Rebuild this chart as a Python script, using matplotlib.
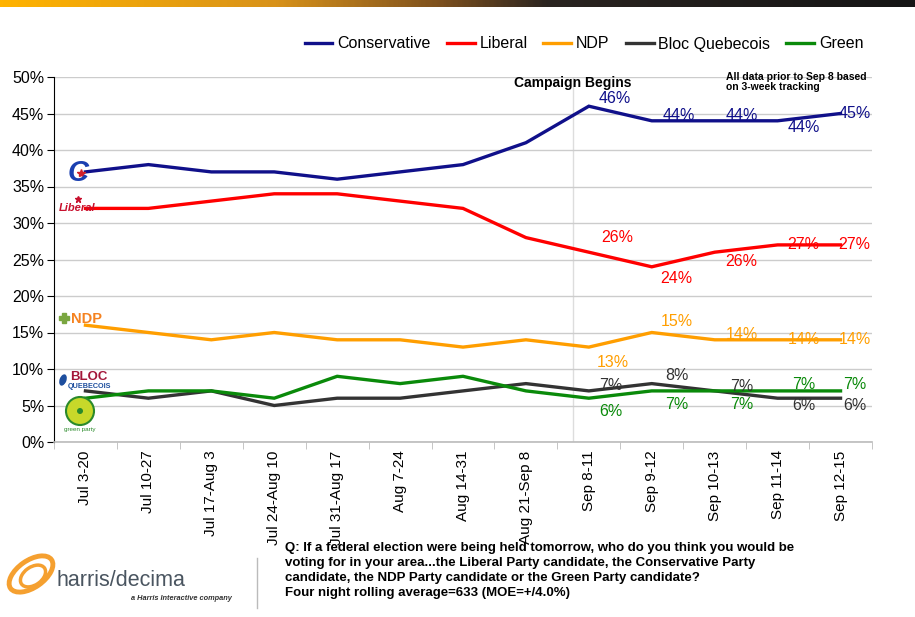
import numpy as np
import matplotlib
matplotlib.use("Agg")
import matplotlib.pyplot as plt
from matplotlib.colors import LinearSegmentedColormap
from matplotlib.patches import Ellipse, Circle

plt.rcParams['font.family'] = ['Liberation Sans', 'DejaVu Sans']

W, H = 915, 617

periods = ["Jul 3-20", "Jul 10-27", "Jul 17-Aug 3", "Jul 24-Aug 10", "Jul 31-Aug 17",
           "Aug 7-24", "Aug 14-31", "Aug 21-Sep 8", "Sep 8-11", "Sep 9-12",
           "Sep 10-13", "Sep 11-14", "Sep 12-15"]
conservative = [37, 38, 37, 37, 36, 37, 38, 41, 46, 44, 44, 44, 45]
liberal = [32, 32, 33, 34, 34, 33, 32, 28, 26, 24, 26, 27, 27]
ndp = [16, 15, 14, 15, 14, 14, 13, 14, 13, 15, 14, 14, 14]
bloc = [7, 6, 7, 5, 6, 6, 7, 8, 7, 8, 7, 6, 6]
green = [6, 7, 7, 6, 9, 8, 9, 7, 6, 7, 7, 7, 7]

series = [("Conservative", conservative, "#10108a"),
          ("Liberal", liberal, "#ff0000"),
          ("NDP", ndp, "#ff9e00"),
          ("Bloc Quebecois", bloc, "#333333"),
          ("Green", green, "#0a8a0a")]

# label offsets (px) for the last five points of each line
offsets = {
    "Conservative": [(26, 8), (27, 5), (27, 5), (26, -7), (14, 0)],
    "Liberal": [(28, 15), (25, -12), (27, -9), (26, 0), (14, 0)],
    "NDP": [(24, -15), (25, 11), (27, 5), (26, 0), (14, 0)],
    "Bloc Quebecois": [(22, 5), (25, 8), (27, 4), (26, -7), (14, -7)],
    "Green": [(22, -13), (25, -14), (27, -14), (26, 6), (14, 6)],
}


def px(x, y):
    return x / W, 1 - y / H


fig = plt.figure(figsize=(W / 100, H / 100), dpi=100)

# top gradient bar
bar = fig.add_axes([0, 1 - 7 / H, 1, 7 / H])
cmap = LinearSegmentedColormap.from_list(
    "bar", [(0, "#ffb300"), (0.3, "#d8921a"), (0.48, "#7d501e"),
            (0.6, "#2a2420"), (1, "#151515")])
bar.imshow(np.linspace(0, 1, 400).reshape(1, -1), aspect="auto", cmap=cmap)
bar.axis("off")

ax = fig.add_axes([54 / W, 1 - 442 / H, (872 - 54) / W, (442 - 77) / H])
x = np.arange(len(periods))
for name, vals, col in series:
    ax.plot(x, vals, color=col, lw=2.4, label=name, solid_joinstyle="miter")
    for i, (dx, dy) in zip(range(8, 13), offsets[name]):
        ax.annotate(f"{vals[i]}%", (x[i], vals[i]), xytext=(dx, dy),
                    textcoords="offset pixels", ha="center", va="center",
                    color=col, fontsize=11.5)

ax.set_xlim(-0.5, len(periods) - 0.5)
ax.set_ylim(0, 50)
ax.set_yticks(range(0, 51, 5))
ax.set_yticklabels([f"{v}%" for v in range(0, 51, 5)], fontsize=11.5)
ax.set_xticks(x)
ax.set_xticklabels(periods, rotation=90, fontsize=11)
ax.set_xticks(np.arange(-0.5, len(periods)), minor=True)
ax.tick_params(axis="x", which="major", length=0, pad=6)
ax.tick_params(axis="x", which="minor", length=5, color="#bbbbbb")
ax.tick_params(axis="y", length=5, pad=2)
ax.grid(axis="y", color="#cccccc", lw=1)
ax.set_axisbelow(True)
for s in ["top", "right"]:
    ax.spines[s].set_visible(False)
ax.spines["bottom"].set_color("#bbbbbb")
ax.spines["bottom"].set_linewidth(1.2)
ax.axvline(7.75, color="#dddddd", lw=1, zorder=0)

ax.text(7.75, 49.2, "Campaign Begins", ha="center", va="center",
        fontsize=10, fontweight="bold")
fig.text(*px(726, 82), "All data prior to Sep 8 based\non 3-week tracking",
         fontsize=7.5, fontweight="bold", va="center", linespacing=1.1)

fig.legend(loc="center right", bbox_to_anchor=px(878, 44), ncol=5,
           frameon=False, fontsize=11.5, handlelength=1.75, columnspacing=1.0,
           handletextpad=0.3)

# party marks on the left
fig.text(*px(78, 173), "C", color="#1a3fb0", fontsize=21, fontweight="bold",
         style="italic", ha="center", va="center")
fig.add_artist(plt.Line2D([81], [H - 173], transform=None, marker="*",
                          markersize=6, color="#d0202a", lw=0))
fig.text(*px(77, 208), "Liberal", color="#c8102e", fontsize=8, style="italic",
         fontweight="bold", ha="center", va="center")
fig.add_artist(plt.Line2D([78], [H - 199], transform=None, marker="*",
                          markersize=5, color="#c8102e", lw=0))
fig.add_artist(plt.Line2D([64], [H - 318], transform=None, marker="P",
                          markersize=7, color="#7aa640", lw=0))
fig.text(*px(87, 319), "NDP", color="#f58220", fontsize=10.5, fontweight="bold",
         ha="center", va="center")
fig.patches.append(Ellipse((63, H - 380), 9, 14, angle=-20, transform=None,
                           facecolor="#1d4e9e", edgecolor="white", lw=1.5, hatch="//"))
fig.text(*px(89, 377), "BLOC", color="#a3173a", fontsize=9.5, fontweight="bold",
         ha="center", va="center")
fig.text(*px(89, 387), "QUEBECOIS", color="#1d4e9e", fontsize=5.2, fontweight="bold",
         ha="center", va="center")
fig.patches.append(Circle((80, H - 411), 14, transform=None, facecolor="#c8d82a",
                          edgecolor="#2a8a2a", lw=1.5))
fig.patches.append(Circle((80, H - 411), 3, transform=None, facecolor="#2a8a2a",
                          edgecolor="none"))
fig.text(*px(80, 430), "green party", color="#2a8a2a", fontsize=4.5,
         ha="center", va="center")

# harris/decima logo
fig.patches.append(Ellipse((31, H - 574), 50, 27, angle=35, transform=None,
                           fill=False, edgecolor="#f5a030", lw=3.5))
fig.patches.append(Ellipse((33, H - 576), 28, 18, angle=35, transform=None,
                           fill=False, edgecolor="#f5a030", lw=2.5))
fig.text(*px(57, 580), "harris/decima", color="#4a5560", fontsize=15.5,
         va="center")
fig.text(*px(232, 598), "a Harris Interactive company", color="#333333",
         fontsize=5.3, style="italic", fontweight="bold", ha="right", va="center")
fig.add_artist(plt.Line2D([257 / W, 257 / W], [1 - 558 / H, 1 - 608 / H],
                          color="#bbbbbb", lw=1))

fig.text(*px(285, 542), "Q: If a federal election were being held tomorrow, who do you think you would be\n"
         "voting for in your area...the Liberal Party candidate, the Conservative Party\n"
         "candidate, the NDP Party candidate or the Green Party candidate?\n"
         "Four night rolling average=633 (MOE=+/4.0%)",
         fontsize=9.5, fontweight="bold", va="top", linespacing=1.33)

fig.savefig("out.png", dpi=100)
